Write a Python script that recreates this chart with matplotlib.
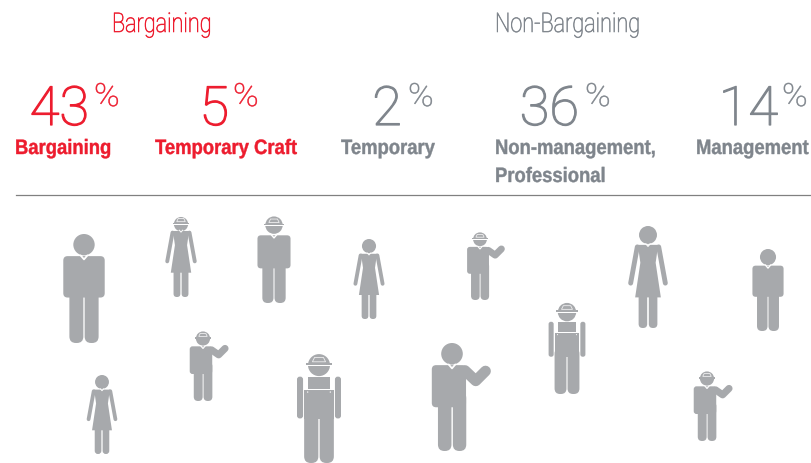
import matplotlib
matplotlib.use("Agg")
import matplotlib.pyplot as plt
import matplotlib.patches as patches
from matplotlib.patheffects import AbstractPathEffect
from matplotlib.text import Text
from matplotlib.transforms import Affine2D, Bbox

RED = "#ed1c2e"
GREY = "#7f858c"
ICON = "#a7a9ac"

group_labels = ["Bargaining", "Non-Bargaining"]
percents = [43, 5, 2, 36, 14]
labels = ["Bargaining", "Temporary Craft", "Temporary", "Non-management,\nProfessional", "Management"]
colors = [RED, RED, GREY, GREY, GREY]

# kind, centre x, top, bottom (pixels)
people = [
    ("man", 84, 235, 344),
    ("woman_hat", 181, 217, 298),
    ("man_hat", 274, 217, 304),
    ("woman", 369, 240, 320),
    ("wave_hat", 480, 232, 301),
    ("woman", 648, 227, 329),
    ("man", 768, 250, 332),
    ("overall", 567, 303, 395),
    ("wave_hat", 203, 331, 402),
    ("overall", 319, 354, 464),
    ("wave", 452, 344, 452),
    ("wave_hat", 707, 371, 442),
    ("woman", 102, 376, 455),
]

fig = plt.figure(figsize=(8.11, 4.64), dpi=100)
ax = fig.add_axes([0, 0, 1, 1])
ax.set_xlim(0, 811)
ax.set_ylim(464, 0)
ax.axis("off")


class Squeeze(AbstractPathEffect):
    # no condensed font is installed, so narrow the glyphs when they are drawn
    def __init__(self, sx, stroke=0):
        super().__init__()
        self.sx = sx
        self.stroke = stroke

    def draw_path(self, renderer, gc, tpath, affine, rgbFace=None):
        gc0 = renderer.new_gc()
        gc0.copy_properties(gc)
        if self.stroke:
            gc0.set_linewidth(self.stroke)
            gc0.set_foreground(rgbFace)
        renderer.draw_path(gc0, tpath, Affine2D().scale(self.sx, 1) + affine, rgbFace)
        gc0.restore()


class NarrowText(Text):
    # left aligned text whose reported box follows the squeezed glyphs
    sx = 1

    def get_window_extent(self, renderer=None, dpi=None):
        bb = super().get_window_extent(renderer, dpi)
        return Bbox.from_extents(bb.x0, bb.y0, bb.x0 + bb.width * self.sx, bb.y1)


def narrow_text(x, y, s, sx, stroke, **kw):
    t = NarrowText(x, y, s, ha="left", va="baseline", path_effects=[Squeeze(sx, stroke)], **kw)
    t.sx = sx
    ax.add_artist(t)
    return t


def box(x0, y0, x1, y1, r, color=ICON, z=2):
    ax.add_patch(patches.FancyBboxPatch((x0, y0), x1 - x0, y1 - y0,
                                        boxstyle=f"round,pad=0,rounding_size={r}",
                                        fc=color, ec="none", zorder=z))


def hat(cx, top, h, cy, r):
    # head and dome, then brim with a white line under it and a small window
    ax.add_patch(patches.Circle((cx, top + cy * h), r * h, fc=ICON, ec="none", zorder=3))
    ax.add_patch(patches.Rectangle((cx - 1.15 * r * h, top + (cy - .018) * h), 2.3 * r * h, .018 * h, fc=ICON, ec="none", zorder=4))
    ax.add_patch(patches.Rectangle((cx - 1.3 * r * h, top + cy * h), 2.6 * r * h, .012 * h, fc="white", ec="none", zorder=4))
    ax.add_patch(patches.Polygon([(cx - .4 * r * h, top + (cy - .07) * h), (cx + .4 * r * h, top + (cy - .07) * h),
                                  (cx + .6 * r * h, top + (cy - .03) * h), (cx - .6 * r * h, top + (cy - .03) * h)],
                                 fc=ICON, ec="#eeeeef", lw=.6, zorder=4))


def collar(cx, y, h):
    ax.plot([cx - .03 * h, cx, cx + .03 * h], [y, y + .035 * h, y], color="white", lw=max(.6, h * .012), zorder=4)


def man(cx, top, bottom, hard_hat=False):
    h = bottom - top
    if hard_hat:
        hat(cx, top, h, .105, .1)
        ty = .222
    else:
        ax.add_patch(patches.Circle((cx, top + .098 * h), .098 * h, fc=ICON, ec="none", zorder=3))
        ty = .203
    box(cx - .19 * h, top + ty * h, cx + .19 * h, top + (ty + .38) * h, .04 * h)
    box(cx - .134 * h, top + .4 * h, cx - .006 * h, bottom, .06 * h)
    box(cx + .006 * h, top + .4 * h, cx + .134 * h, bottom, .06 * h)
    collar(cx, top + (ty - .005) * h, h)


def woman(cx, top, bottom, hard_hat=False):
    h = bottom - top
    if hard_hat:
        hat(cx, top, h, .1, .088)
    else:
        ax.add_patch(patches.Circle((cx, top + .088 * h), .088 * h, fc=ICON, ec="none", zorder=3))
    dress = [(-.1, .185), (.1, .185), (.075, .36), (.126, .7), (-.126, .7), (-.075, .36)]
    ax.add_patch(patches.Polygon([(cx + u * h, top + v * h) for u, v in dress], fc=ICON, ec="none", zorder=2))
    for sign in (-1, 1):
        ax.plot([cx + sign * .105 * h, cx + sign * .17 * h], [top + .205 * h, top + .56 * h], color=ICON,
                lw=h * .048 * .72, solid_capstyle="round", zorder=2)
    box(cx - .092 * h, top + .65 * h, cx - .008 * h, bottom, .04 * h)
    box(cx + .008 * h, top + .65 * h, cx + .092 * h, bottom, .04 * h)
    collar(cx, top + .175 * h, h * .7)


def wave(cx, top, bottom, hard_hat=False):
    h = bottom - top
    if hard_hat:
        hat(cx, top, h, .12, .1)
        ty = .23
    else:
        ax.add_patch(patches.Circle((cx, top + .1 * h), .1 * h, fc=ICON, ec="none", zorder=3))
        ty = .205
    box(cx - .187 * h, top + ty * h, cx + .13 * h, top + (ty + .39) * h, .04 * h)
    box(cx - .13 * h, top + .45 * h, cx - .005 * h, bottom, .06 * h)
    box(cx + .008 * h, top + .45 * h, cx + .132 * h, bottom, .06 * h)
    arm_u = [.12, .22, .31]
    arm_v = [ty + .05, .35, .26]
    # arm line width follows the icon height in points
    ax.plot([cx + u * h for u in arm_u], [top + v * h for v in arm_v], color=ICON,
            lw=h * .1 * .72, solid_capstyle="round", solid_joinstyle="round", zorder=2)
    collar(cx, top + (ty - .005) * h, h)


def overall(cx, top, bottom):
    h = bottom - top
    hat(cx, top, h, .11, .1)
    ax.add_patch(patches.Rectangle((cx - .1 * h, top + .22 * h), .2 * h, .11 * h, fc=ICON, ec="none", zorder=2))
    ax.add_patch(patches.Rectangle((cx - .135 * h, top + .338 * h), .27 * h, .262 * h, fc=ICON, ec="none", zorder=2))
    box(cx - .2 * h, top + .215 * h, cx - .145 * h, top + .595 * h, .025 * h)
    box(cx + .145 * h, top + .215 * h, cx + .2 * h, top + .595 * h, .025 * h)
    box(cx - .135 * h, top + .5 * h, cx - .006 * h, bottom, .06 * h)
    box(cx + .006 * h, top + .5 * h, cx + .135 * h, bottom, .06 * h)
    for sign in (-1, 1):
        ax.add_patch(patches.Circle((cx + sign * .103 * h, top + .355 * h), .006 * h, fc="white", ec="none", zorder=4))


draw = {
    "man": man,
    "man_hat": lambda c, t, b: man(c, t, b, True),
    "woman": woman,
    "woman_hat": lambda c, t, b: woman(c, t, b, True),
    "wave": wave,
    "wave_hat": lambda c, t, b: wave(c, t, b, True),
    "overall": overall,
}
for kind, cx, top, bottom in people:
    draw[kind](cx, top, bottom)

# headers
narrow_text(112, 33, group_labels[0], .8, .45, color=RED, fontsize=19.5, family="Roboto", weight="light")
narrow_text(495, 33, group_labels[1], .8, .45, color=GREY, fontsize=19.5, family="Roboto", weight="light")

# big numbers, % signs and the bold labels
num_right = [89, 229, 402, 579, 778]
pct_left = [94, 233, 408, 585, 782]
label_left = [15, 155, 341, 495, 696]
label_base = [155, 183]
for i, p in enumerate(percents):
    ax.text(num_right[i], 126, str(p), color=colors[i], fontsize=39, family="Roboto", weight="light", ha="right",
            va="baseline", path_effects=[Squeeze(1, .9)])
    narrow_text(pct_left[i], 107, "%", 1.08, .4, color=colors[i], fontsize=23, family="Roboto", weight="light")
    for line, y in zip(labels[i].split("\n"), label_base):
        narrow_text(label_left[i], y, line, .885, .3, color=colors[i], fontsize=15, family="Liberation Sans", weight="bold")

ax.plot([16, 811], [195.5, 195.5], color="#808080", lw=0.9)

fig.savefig("out.png", dpi=100)
